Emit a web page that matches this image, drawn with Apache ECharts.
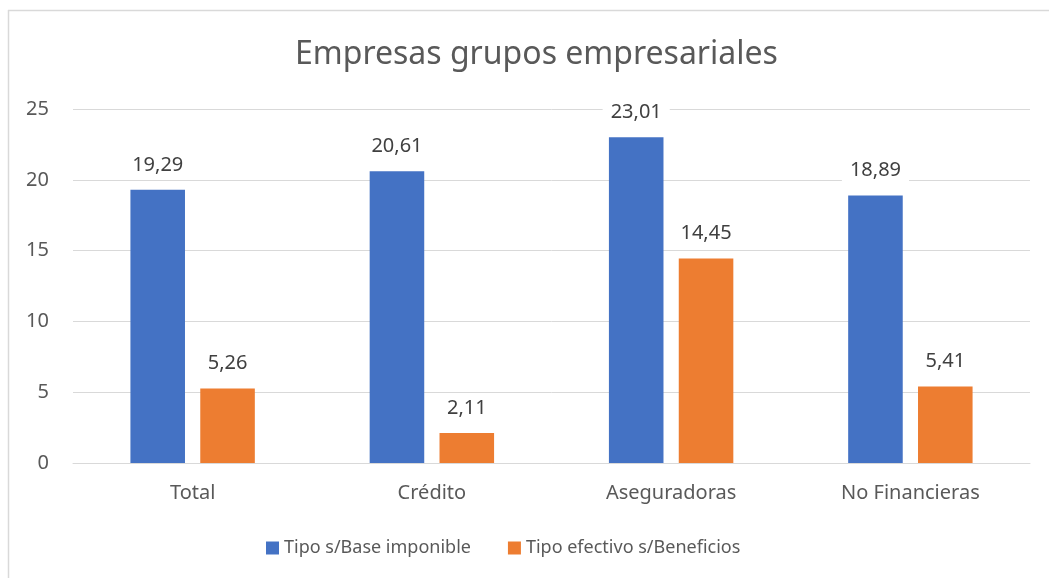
<!DOCTYPE html>
<html>
<head>
<meta charset="utf-8">
<script src="https://cdn.jsdelivr.net/npm/echarts@6/dist/echarts.min.js"></script>
<style>html,body{margin:0;padding:0;background:#fff}#c{width:1049px;height:578px}</style>
</head>
<body>
<div id="c"></div>
<script>
const categories = ['Total', 'Crédito', 'Aseguradoras', 'No Financieras'];
const seriesNames = ['Tipo s/Base imponible', 'Tipo efectivo s/Beneficios'];
const baseImponible = [19.29, 20.61, 23.01, 18.89];
const efectivo = [5.26, 2.11, 14.45, 5.41];
const yTicks = [0, 5, 10, 15, 20, 25];

const FONT = 'Noto Sans';
const chart = echarts.init(document.getElementById('c'), null, {renderer: 'canvas'});
const labelCfg = {
  show: true, position: 'top', distance: 13,
  color: '#404040', fontSize: 20, fontFamily: FONT,
  backgroundColor: '#fff', padding: [2, 8],
  formatter: p => p.value.toFixed(2).replace('.', ',')
};
chart.setOption({
  animation: false,
  backgroundColor: '#fff',
  textStyle: {fontFamily: FONT},
  title: {
    text: 'Empresas grupos empresariales', left: 290, top: 34,
    textStyle: {fontSize: 32, fontWeight: 'normal', color: '#595959', fontFamily: FONT}
  },
  legend: {
    bottom: 16, left: 261, itemWidth: 13, itemHeight: 13, itemGap: 37,
    icon: 'rect',
    textStyle: {fontSize: 18, color: '#595959', fontFamily: FONT}
  },
  grid: {left: 73, right: 19, top: 109, bottom: 115, containLabel: false},
  xAxis: {
    type: 'category', data: categories,
    axisLine: {lineStyle: {color: '#D9D9D9', width: 1}},
    axisTick: {show: false},
    axisLabel: {fontSize: 20, color: '#595959', margin: 20, fontFamily: FONT}
  },
  yAxis: {
    type: 'value', min: yTicks[0], max: yTicks[yTicks.length - 1], interval: 5,
    axisLine: {show: false}, axisTick: {show: false},
    splitLine: {lineStyle: {color: '#D9D9D9', width: 1}},
    axisLabel: {fontSize: 20, color: '#595959', margin: 24, fontFamily: FONT}
  },
  graphic: [
    {type: 'line', shape: {x1: 8.5, y1: 10, x2: 8.5, y2: 578}, style: {stroke: '#D9D9D9', lineWidth: 1.5}, silent: true},
    {type: 'line', shape: {x1: 8, y1: 10.5, x2: 1049, y2: 10.5}, style: {stroke: '#D9D9D9', lineWidth: 1.5}, silent: true}
  ],
  series: [
    {name: seriesNames[0], type: 'bar', data: baseImponible, barGap: '28%', barCategoryGap: '48%',
     itemStyle: {color: '#4472C4'}, label: labelCfg},
    {name: seriesNames[1], type: 'bar', data: efectivo,
     itemStyle: {color: '#ED7D31'}, label: labelCfg}
  ]
});
</script>
</body>
</html>
